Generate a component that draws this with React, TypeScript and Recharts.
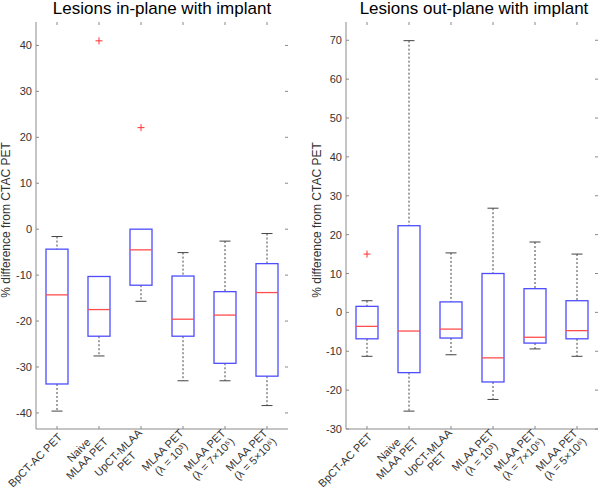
import { Bar, ComposedChart, Scatter, XAxis, YAxis } from 'recharts'

const FONT = "'Liberation Sans', Arial, Helvetica, sans-serif"
const FRAME = '#8a8a8a'
const TEXT = '#333333'
const BOX = '#4d4dff'
const MEDIAN = '#ff4d4d'
const WHISKER = '#444444'

const categories = [
  'BpCT-AC PET',
  'Naive MLAA PET',
  'UpCT-MLAA PET',
  'MLAA PET (λ = 10³)',
  'MLAA PET (λ = 7×10⁵)',
  'MLAA PET (λ = 5×10⁶)',
]
const categoryLines = [
  ['BpCT-AC PET'],
  ['Naive', 'MLAA PET'],
  ['UpCT-MLAA', 'PET'],
  ['MLAA PET', '(λ = 10³)'],
  ['MLAA PET', '(λ = 7×10⁵)'],
  ['MLAA PET', '(λ = 5×10⁶)'],
]

// Lesions in-plane with implant
const inMin = [-39.6, -27.6, -15.7, -33.0, -33.0, -38.4]
const inQ1 = [-33.7, -23.3, -12.2, -23.3, -29.2, -32.0]
const inMedian = [-14.3, -17.5, -4.5, -19.6, -18.7, -13.8]
const inQ3 = [-4.35, -10.3, 0, -10.2, -13.6, -7.5]
const inMax = [-1.6, -10.3, 0, -5.1, -2.6, -0.95]
const inOutlierCats = [1, 2]
const inOutlierValues = [41.0, 22.1]
const inTicks = [-40, -30, -20, -10, 0, 10, 20, 30, 40]
const inDomain = [-43.5, 45.1]

// Lesions out-plane with implant
const outMin = [-11.3, -25.4, -10.9, -22.4, -9.4, -11.3]
const outQ1 = [-6.8, -15.5, -6.6, -17.9, -7.9, -6.8]
const outMedian = [-3.6, -4.8, -4.3, -11.7, -6.4, -4.7]
const outQ3 = [1.55, 22.3, 2.7, 10.0, 6.1, 3.0]
const outMax = [3.0, 69.9, 15.3, 26.8, 18.1, 15.0]
const outOutlierCats = [0]
const outOutlierValues = [15.0]
const outTicks = [-30, -20, -10, 0, 10, 20, 30, 40, 50, 60, 70]
const outDomain = [-30, 74.7]

const PLOT_W = 252
const PLOT_H = 407

function buildRows(min: number[], q1: number[], med: number[], q3: number[], max: number[]) {
  return categories.map((name, i) => ({
    name,
    range: [min[i], max[i]],
    min: min[i],
    q1: q1[i],
    median: med[i],
    q3: q3[i],
    max: max[i],
  }))
}

function buildOutliers(cats: number[], values: number[]) {
  return cats.map((c, i) => ({ name: categories[c], value: values[i] }))
}

let ctx: CanvasRenderingContext2D | null = null
function measure(s: string) {
  if (!ctx) ctx = document.createElement('canvas').getContext('2d')
  if (!ctx) return s.length * 6
  ctx.font = `11px ${FONT}`
  return ctx.measureText(s).width
}

function BoxShape(props: any) {
  const { x, y, width, height, payload } = props
  const top = Math.min(y, y + height)
  const h = Math.abs(height)
  const span = payload.max - payload.min
  const py = (v: number) => (span === 0 ? top : top + ((payload.max - v) / span) * h)
  const cx = x + width / 2
  const cap = width / 4
  const yMax = py(payload.max)
  const yMin = py(payload.min)
  const yQ3 = py(payload.q3)
  const yQ1 = py(payload.q1)
  const yMed = py(payload.median)
  return (
    <g>
      {yMax < yQ3 - 0.5 && (
        <>
          <line x1={cx} x2={cx} y1={yMax} y2={yQ3} stroke={WHISKER} strokeDasharray="2 2" />
          <line x1={cx - cap} x2={cx + cap} y1={yMax} y2={yMax} stroke={WHISKER} />
        </>
      )}
      {yMin > yQ1 + 0.5 && (
        <>
          <line x1={cx} x2={cx} y1={yQ1} y2={yMin} stroke={WHISKER} strokeDasharray="2 2" />
          <line x1={cx - cap} x2={cx + cap} y1={yMin} y2={yMin} stroke={WHISKER} />
        </>
      )}
      <rect x={x} y={yQ3} width={width} height={yQ1 - yQ3} fill="none" stroke={BOX} strokeWidth={1.3} />
      <line x1={x} x2={x + width} y1={yMed} y2={yMed} stroke={MEDIAN} strokeWidth={1.3} />
    </g>
  )
}

function PlusShape(props: any) {
  const { cx, cy } = props
  return (
    <g stroke="#ff3030" strokeWidth={1}>
      <line x1={cx - 3.5} x2={cx + 3.5} y1={cy} y2={cy} />
      <line x1={cx} x2={cx} y1={cy - 3.5} y2={cy + 3.5} />
    </g>
  )
}

function xTick(props: any) {
  const { x, y, payload, index } = props
  const lines = categoryLines[index] ?? [String(payload.value)]
  const w = Math.max(...lines.map(measure))
  const lh = 12
  return (
    <g>
      <line x1={x} x2={x} y1={y} y2={y - 3} stroke={FRAME} />
      <line x1={x} x2={x} y1={y - PLOT_H} y2={y - PLOT_H + 3} stroke={FRAME} />
      <g transform={`translate(${x + 3},${y + 6}) rotate(-45)`}>
        {lines.map((t, i) => (
          <text
            key={i}
            x={-w / 2}
            y={(i - (lines.length - 1) / 2) * lh}
            textAnchor="middle"
            dominantBaseline="central"
            fontSize={11}
            fill={TEXT}
            fontFamily={FONT}
          >
            {t}
          </text>
        ))}
      </g>
    </g>
  )
}

function yTick(props: any) {
  const { x, y, payload } = props
  return (
    <g>
      <line x1={x} x2={x + 3} y1={y} y2={y} stroke={FRAME} />
      <line x1={x + PLOT_W - 3} x2={x + PLOT_W} y1={y} y2={y} stroke={FRAME} />
      <text x={x - 4} y={y} textAnchor="end" dominantBaseline="central" fontSize={11} fill={TEXT} fontFamily={FONT}>
        {payload.value}
      </text>
    </g>
  )
}

interface PanelProps {
  rows: ReturnType<typeof buildRows>
  outliers: { name: string; value: number }[]
  domain: number[]
  ticks: number[]
  yWidth: number
  marginRight: number
}

function BoxPanel({ rows, outliers, domain, ticks, yWidth, marginRight }: PanelProps) {
  return (
    <ComposedChart
      width={yWidth + PLOT_W + marginRight}
      height={22 + PLOT_H + 63}
      data={rows}
      margin={{ top: 22, right: marginRight, left: 0, bottom: 0 }}
    >
      <XAxis
        dataKey="name"
        type="category"
        allowDuplicatedCategory={false}
        height={63}
        interval={0}
        tickSize={0}
        tickMargin={0}
        tickLine={false}
        axisLine={{ stroke: FRAME }}
        tick={xTick}
      />
      <XAxis
        xAxisId="top"
        dataKey="name"
        type="category"
        allowDuplicatedCategory={false}
        orientation="top"
        height={0}
        tick={false}
        tickLine={false}
        axisLine={{ stroke: FRAME }}
      />
      <YAxis
        type="number"
        domain={domain}
        ticks={ticks}
        allowDataOverflow
        width={yWidth}
        tickSize={0}
        tickMargin={0}
        tickLine={false}
        axisLine={{ stroke: FRAME }}
        tick={yTick}
      />
      <YAxis
        yAxisId="right"
        orientation="right"
        type="number"
        domain={domain}
        allowDataOverflow
        width={0}
        tick={false}
        tickLine={false}
        axisLine={{ stroke: FRAME }}
      />
      <Bar dataKey="range" barSize={22} shape={BoxShape} isAnimationActive={false} />
      <Scatter data={outliers} dataKey="value" shape={PlusShape} isAnimationActive={false} />
    </ComposedChart>
  )
}

export default function App() {
  const inRows = buildRows(inMin, inQ1, inMedian, inQ3, inMax)
  const outRows = buildRows(outMin, outQ1, outMedian, outQ3, outMax)
  return (
    <div style={{ position: 'absolute', left: 0, top: 0, width: 600, height: 492, background: '#fff' }}>
      <div style={{ position: 'absolute', left: 0, top: 0 }}>
        <BoxPanel
          rows={inRows}
          outliers={buildOutliers(inOutlierCats, inOutlierValues)}
          domain={inDomain}
          ticks={inTicks}
          yWidth={36}
          marginRight={12}
        />
      </div>
      <div style={{ position: 'absolute', left: 300, top: 0 }}>
        <BoxPanel
          rows={outRows}
          outliers={buildOutliers(outOutlierCats, outOutlierValues)}
          domain={outDomain}
          ticks={outTicks}
          yWidth={46}
          marginRight={2}
        />
      </div>
      <svg width={600} height={492} style={{ position: 'absolute', left: 0, top: 0, pointerEvents: 'none' }}>
        <text x={162} y={14} textAnchor="middle" fontSize={17} fontFamily={FONT} fill="#000">
          Lesions in-plane with implant
        </text>
        <text x={474} y={14} textAnchor="middle" fontSize={17} fontFamily={FONT} fill="#000">
          Lesions out-plane with implant
        </text>
        <text
          transform="translate(9.5,220) rotate(-90)"
          textAnchor="middle"
          fontSize={12}
          fontFamily={FONT}
          fill={TEXT}
        >
          % difference from CTAC PET
        </text>
        <text
          transform="translate(320.5,220) rotate(-90)"
          textAnchor="middle"
          fontSize={12}
          fontFamily={FONT}
          fill={TEXT}
        >
          % difference from CTAC PET
        </text>
      </svg>
    </div>
  )
}
